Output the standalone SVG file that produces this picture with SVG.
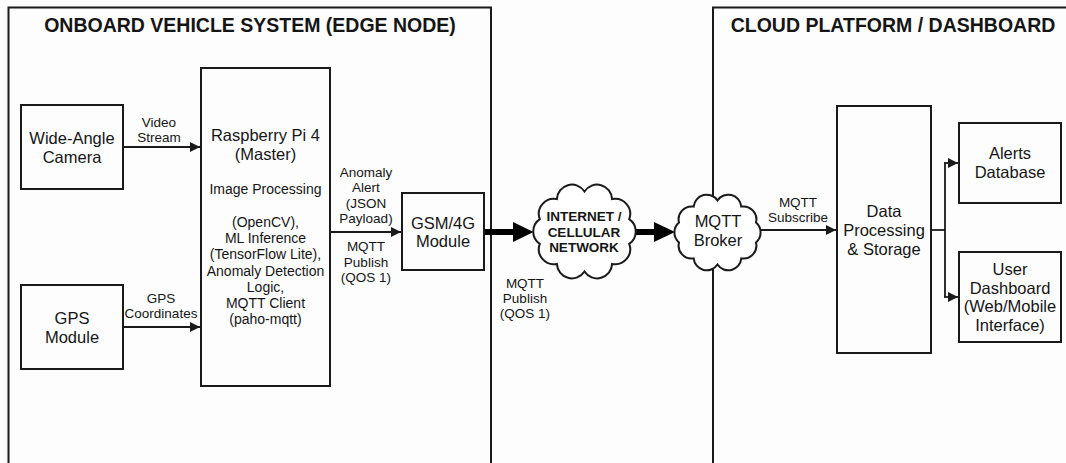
<svg xmlns="http://www.w3.org/2000/svg" width="1066" height="463" viewBox="0 0 1066 463">
<defs>
<style>
.bg{fill:#fdfdfd}
.frame{fill:none;stroke:#1a1a1a;stroke-width:2}
.box{fill:#fdfdfd;stroke:#1a1a1a;stroke-width:2}
.cloud{fill:#ffffff;stroke:#1a1a1a;stroke-width:2}
.conn{fill:none;stroke:#1a1a1a;stroke-width:1.8}
.thick{fill:none;stroke:#000;stroke-width:6}
text{font-family:"Liberation Sans",Arial,sans-serif;fill:#151515;text-anchor:middle}
.title{font-size:19.5px;font-weight:bold}
.node{font-size:16.5px}
.body{font-size:14px}
.lbl{font-size:13.5px}
.net{font-size:13.5px;font-weight:bold}
</style>
<marker id="ah" viewBox="0 0 10 10" refX="10" refY="5" markerWidth="10" markerHeight="10" markerUnits="userSpaceOnUse" orient="auto">
<path d="M0 0 L10 5 L0 10 Z" fill="#1a1a1a"/>
</marker>
</defs>
<rect class="bg" x="0" y="0" width="1066" height="463"/>

<g id="edge-frame">
<path class="frame" d="M8.5 470 V7.5 H491 V470"/>
<text class="title" x="250" y="32">ONBOARD VEHICLE SYSTEM (EDGE NODE)</text>
</g>
<g id="cloud-frame">
<path class="frame" d="M713 470 V7.5 H1070"/>
<text class="title" x="893" y="32">CLOUD PLATFORM / DASHBOARD</text>
</g>

<g id="connectors">
<line class="conn" x1="123" y1="147" x2="200" y2="147" marker-end="url(#ah)"/>
<line class="conn" x1="123" y1="327" x2="200" y2="327" marker-end="url(#ah)"/>
<line class="conn" x1="330" y1="232" x2="401" y2="232" marker-end="url(#ah)"/>
<line class="thick" x1="484" y1="232" x2="515" y2="232"/>
<path d="M513 222 L533.5 232 L513 242 Z" fill="#000"/>
<line class="thick" x1="632" y1="232" x2="656" y2="232"/>
<path d="M654 222 L675 232 L654 242 Z" fill="#000"/>
<line class="conn" x1="760" y1="230" x2="836" y2="230" marker-end="url(#ah)"/>
<path class="conn" d="M931 230 H945"/>
<path class="conn" d="M945 163 V297"/>
<line class="conn" x1="944" y1="163" x2="958" y2="163" marker-end="url(#ah)"/>
<line class="conn" x1="944" y1="297" x2="958" y2="297" marker-end="url(#ah)"/>
<g class="lbl">
<text class="lbl" x="159" y="127">Video</text>
<text class="lbl" x="159" y="142">Stream</text>
<text class="lbl" x="161" y="303">GPS</text>
<text class="lbl" x="161" y="318">Coordinates</text>
<text class="lbl" x="366" y="176.5">Anomaly</text>
<text class="lbl" x="366" y="192">Alert</text>
<text class="lbl" x="366" y="207.5">(JSON</text>
<text class="lbl" x="366" y="223">Payload)</text>
<text class="lbl" x="366" y="251">MQTT</text>
<text class="lbl" x="366" y="266.5">Publish</text>
<text class="lbl" x="366" y="282">(QOS 1)</text>
<text class="lbl" x="525" y="288">MQTT</text>
<text class="lbl" x="525" y="303">Publish</text>
<text class="lbl" x="525" y="318">(QOS 1)</text>
<text class="lbl" x="798" y="207">MQTT</text>
<text class="lbl" x="798" y="222">Subscribe</text>
</g>
</g>

<g id="camera">
<rect class="box" x="21" y="105" width="102" height="84"/>
<text class="node" x="72" y="144">Wide-Angle</text>
<text class="node" x="72" y="163">Camera</text>
</g>

<g id="gps">
<rect class="box" x="21" y="285" width="102" height="84"/>
<text class="node" x="72" y="324">GPS</text>
<text class="node" x="72" y="343">Module</text>
</g>

<g id="raspberry-pi">
<rect class="box" x="201" y="68" width="129" height="318"/>
<text class="node" x="265.5" y="141">Raspberry Pi 4</text>
<text class="node" x="265.5" y="160">(Master)</text>
<text class="body" x="265.5" y="194">Image Processing</text>
<text class="body" x="265.5" y="227">(OpenCV),</text>
<text class="body" x="265.5" y="243">ML Inference</text>
<text class="body" x="265.5" y="259">(TensorFlow Lite),</text>
<text class="body" x="265.5" y="275.5">Anomaly Detection</text>
<text class="body" x="265.5" y="292">Logic,</text>
<text class="body" x="265.5" y="308">MQTT Client</text>
<text class="body" x="265.5" y="324">(paho-mqtt)</text>
</g>

<g id="gsm">
<rect class="box" x="402" y="193" width="82" height="77"/>
<text class="node" x="443" y="229">GSM/4G</text>
<text class="node" x="443" y="247">Module</text>
</g>

<g id="internet">
<path class="cloud" d="M629.2 243.9 A15 15 0 0 1 612.1 263.9 A15 15 0 0 1 584.5 271.5 A15 15 0 0 1 556.9 263.9 A15 15 0 0 1 539.8 243.9 A15 15 0 0 1 539.8 219.1 A15 15 0 0 1 556.9 199.1 A15 15 0 0 1 584.5 191.5 A15 15 0 0 1 612.1 199.1 A15 15 0 0 1 629.2 219.1 A15 15 0 0 1 629.2 243.9 Z"/>
<text class="net" x="584" y="221">INTERNET /</text>
<text class="net" x="584" y="237">CELLULAR</text>
<text class="net" x="584" y="252">NETWORK</text>
</g>

<g id="broker">
<path class="cloud" d="M756 242.4 A13 13 0 0 1 741.3 258.4 A13 13 0 0 1 717.5 264.5 A13 13 0 0 1 693.7 258.4 A13 13 0 0 1 679 242.4 A13 13 0 0 1 679 222.6 A13 13 0 0 1 693.7 206.6 A13 13 0 0 1 717.5 200.5 A13 13 0 0 1 741.3 206.6 A13 13 0 0 1 756 222.6 A13 13 0 0 1 756 242.4 Z"/>
<text class="node" x="718" y="227">MQTT</text>
<text class="node" x="718" y="246">Broker</text>
</g>

<g id="data-processing">
<rect class="box" x="837" y="106" width="94" height="247"/>
<text class="node" x="884" y="217">Data</text>
<text class="node" x="884" y="236">Processing</text>
<text class="node" x="884" y="255">&amp; Storage</text>
</g>

<g id="alerts-db">
<rect class="box" x="959" y="123" width="102" height="80"/>
<text class="node" x="1010" y="159">Alerts</text>
<text class="node" x="1010" y="178">Database</text>
</g>

<g id="user-dashboard">
<rect class="box" x="959" y="252" width="102" height="90"/>
<text class="node" x="1010" y="275">User</text>
<text class="node" x="1010" y="293.5">Dashboard</text>
<text class="node" x="1010" y="312">(Web/Mobile</text>
<text class="node" x="1010" y="330.5">Interface)</text>
</g>
</svg>
